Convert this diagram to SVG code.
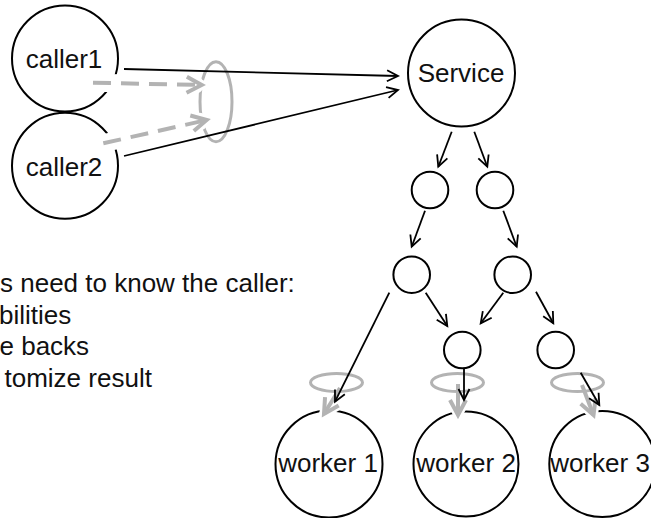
<svg xmlns="http://www.w3.org/2000/svg" width="651" height="518" viewBox="0 0 651 518">
  <style>
    .bg { fill: #ffffff; }
    .node circle { fill: none; stroke: #000; stroke-width: 2; }
    .lbl { font-family: "Liberation Sans", Arial, sans-serif; font-size: 26px; fill: #111; }
    .mid { text-anchor: middle; }
    .edge { fill: none; stroke: #000; stroke-width: 1.8; marker-end: url(#ah); }
    .halo { fill: none; stroke: #fff; stroke-width: 10; stroke-linecap: round; }
    .halo-wide { stroke-width: 18; }
    .gray { fill: none; stroke: #b3b3b3; stroke-width: 4; marker-end: url(#gh); }
    .dash { stroke-dasharray: 18 10; }
    .ring { fill: none; stroke: #b3b3b3; stroke-width: 3; }
  </style>
  <defs>
    <marker id="ah" markerUnits="userSpaceOnUse" viewBox="-13 -7 15 14" markerWidth="15" markerHeight="14" refX="0" refY="0" orient="auto" overflow="visible">
      <path d="M-11,-5.5 L0,0 L-11,5.5" fill="none" stroke="#000" stroke-width="1.8"/>
    </marker>
    <marker id="gh" markerUnits="userSpaceOnUse" viewBox="-18 -10 20 20" markerWidth="20" markerHeight="20" refX="0" refY="0" orient="auto" overflow="visible">
      <path d="M-15,-8 L0,0 L-15,8" fill="none" stroke="#b3b3b3" stroke-width="4"/>
    </marker>
    <marker id="hh" markerUnits="userSpaceOnUse" viewBox="-20 -12 24 24" markerWidth="24" markerHeight="24" refX="0" refY="0" orient="auto" overflow="visible">
      <path d="M-15,-8 L0,0 L-15,8" fill="none" stroke="#fff" stroke-width="9" stroke-linecap="round" stroke-linejoin="round"/>
    </marker>
  </defs>

  <rect class="bg" x="0" y="0" width="651" height="518"/>

  <!-- side note at the left edge -->
  <g id="note" class="lbl">
    <text x="0" y="292">s need to know the caller:</text>
    <text x="-1" y="323.5">bilities</text>
    <text x="-0.5" y="355">e backs</text>
    <text x="4.5" y="387">tomize result</text>
  </g>

  <g id="caller1" class="node">
    <circle cx="65" cy="58.5" r="53"/>
    <text class="lbl mid" x="64" y="68">caller1</text>
  </g>
  <g id="caller2" class="node">
    <circle cx="65" cy="165.7" r="53"/>
    <text class="lbl mid" x="64" y="175.5">caller2</text>
  </g>
  <g id="service" class="node">
    <circle cx="461.5" cy="73" r="53.5"/>
    <text class="lbl mid" x="461" y="82">Service</text>
  </g>
  <g id="n1a" class="node"><circle cx="430" cy="190" r="18.3"/></g>
  <g id="n1b" class="node"><circle cx="495" cy="190" r="18.3"/></g>
  <g id="n2a" class="node"><circle cx="411.7" cy="274.7" r="18.3"/></g>
  <g id="n2b" class="node"><circle cx="512.7" cy="274.7" r="18.3"/></g>
  <g id="n3a" class="node"><circle cx="462.3" cy="350" r="18.3"/></g>
  <g id="n3b" class="node"><circle cx="555.7" cy="350" r="18.3"/></g>
  <g id="worker1" class="node">
    <circle cx="329" cy="464" r="53.5"/>
    <text class="lbl mid" x="328" y="472">worker 1</text>
  </g>
  <g id="worker2" class="node">
    <circle cx="466" cy="464" r="52.5"/>
    <text class="lbl mid" x="466" y="472">worker 2</text>
  </g>
  <g id="worker3" class="node">
    <circle cx="602.3" cy="464" r="53"/>
    <text class="lbl mid" x="600" y="472">worker 3</text>
  </g>

  <g id="connectors">
    <!-- funnel ring in front of the service -->
    <ellipse class="ring" cx="216" cy="101.7" rx="16" ry="40"/>

    <!-- white knockouts under the grey arrows -->
    <path class="halo halo-wide" d="M93,82.7 L195,84.8"/>
    <path class="halo halo-wide" d="M103.3,143.3 L199,121.7"/>
    <path class="halo" d="M93,82.7 L201.7,85" stroke="none" marker-end="url(#hh)"/>
    <path class="halo" d="M103.3,143.3 L206.7,120" stroke="none" marker-end="url(#hh)"/>
    <path class="halo" d="M340,388 L324,414" stroke="none" marker-end="url(#hh)"/>
    <path class="halo" d="M458,384 L458,415" stroke="none" marker-end="url(#hh)"/>
    <path class="halo" d="M582,385 L593.5,415" stroke="none" marker-end="url(#hh)"/>

    <!-- rotation rings above the workers -->
    <ellipse class="ring" cx="336.5" cy="382.5" rx="26" ry="9"/>
    <ellipse class="ring" cx="457.5" cy="382.5" rx="26" ry="9"/>
    <ellipse class="ring" cx="577.5" cy="382.5" rx="26" ry="9"/>

    <!-- grey flows -->
    <path class="gray dash" d="M93,82.7 L201.7,85"/>
    <path class="gray dash" d="M103.3,143.3 L206.7,120"/>
    <path class="gray" d="M340,388 L324,414"/>
    <path class="gray" d="M458,384 L458,415"/>
    <path class="gray" d="M582,385 L593.5,415"/>

    <!-- calls -->
    <path class="edge" d="M124,69 L398,76"/>
    <path class="edge" d="M124,156 L398,90"/>
    <path class="edge" d="M451.7,131.7 L438.3,166.7"/>
    <path class="edge" d="M474.3,131.7 L487.3,166.7"/>
    <path class="edge" d="M425,210.7 L411.7,246.7"/>
    <path class="edge" d="M503.3,210.7 L516.7,246.7"/>
    <path class="edge" d="M389.3,292.7 L335,401.7"/>
    <path class="edge" d="M425.7,292.7 L447.3,326"/>
    <path class="edge" d="M503.3,292.7 L480.7,323.3"/>
    <path class="edge" d="M536,291.7 L553.3,323.3"/>
    <path class="edge" d="M464,368.3 L464,400"/>
    <path class="edge" d="M580.7,372.7 L599.3,405"/>
  </g>
</svg>
